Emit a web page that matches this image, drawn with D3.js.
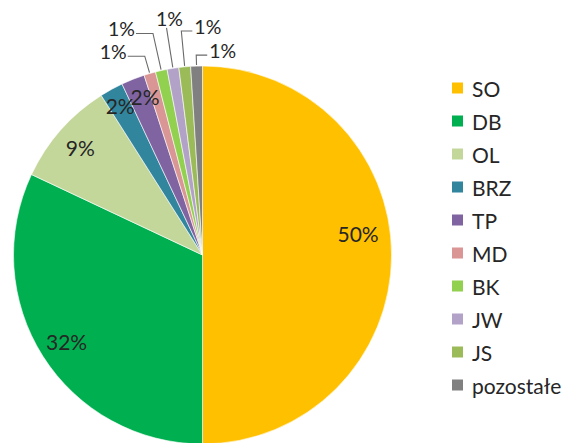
<!DOCTYPE html>
<html><head><meta charset="utf-8">
<script src="https://cdn.jsdelivr.net/npm/d3@7"></script>
<style>body{margin:0;background:#fff}svg{display:block}text{font-family:Lato,"Open Sans",sans-serif}</style>
</head><body>
<svg id="c" width="562" height="443"></svg>
<script>
const categories = ["SO","DB","OL","BRZ","TP","MD","BK","JW","JS","pozostałe"];
const values = [50,32,9,2,2,1,1,1,1,1];
const colors = ["#FFC000","#00B050","#C4D79B","#31859C","#8064A2","#D99694","#92D050","#B3A2C7","#9BBB59","#808080"];

const svg = d3.select("#c");
const cx = 202.5, cy = 255, R = 189;
const FS = 21, FSO = 19.5;
const g = svg.append("g").attr("transform",`translate(${cx},${cy})`);
const data = categories.map((c,i)=>({cat:c,val:values[i],col:colors[i]}));
const pie = d3.pie().sort(null).value(d=>d.val);
const arcs = pie(data);
const arc = d3.arc().innerRadius(0).outerRadius(R);
g.selectAll("path").data(arcs).join("path")
  .attr("d",arc).attr("fill",d=>d.data.col)
  .attr("stroke","#fff").attr("stroke-width",0.6);

const total = d3.sum(values);
const fmt = d => Math.round(d.data.val/total*100)+"%";
const mid = d => (d.startAngle+d.endAngle)/2;
const pt = (a,r)=>[Math.sin(a)*r,-Math.cos(a)*r];

// inside labels (best-fit style: radius and small angular shift)
const inside = arcs.filter(d=>d.data.val>=2);
const inR = [157,161,163,171,169];
const inShift = [-0.135,0,0,0,0.03];
g.selectAll("text.in").data(inside).join("text")
  .attr("class","in")
  .attr("x",(d,i)=>pt(mid(d)+inShift[i],inR[i])[0])
  .attr("y",(d,i)=>pt(mid(d)+inShift[i],inR[i])[1])
  .attr("text-anchor","middle").attr("dominant-baseline","central")
  .attr("font-size",FS).attr("fill","#262626").text(fmt);

// outside labels with leaders
const outside = arcs.filter(d=>d.data.val<2);
const elbowR = [207,227,230,225,200];
const side = ["L","L","T","R","R"];
outside.forEach((d,i)=>{
  const a = mid(d);
  const p0 = pt(a,R+1), p1 = pt(a,elbowR[i]);
  let pts=[p0,p1], tx, ty, anchor;
  if(side[i]==="L"){ const p2=[p1[0]-17,p1[1]]; pts.push(p2); tx=p2[0]-1; ty=p2[1]+3; anchor="end"; }
  else if(side[i]==="R"){ const p2=[p1[0]+11,p1[1]]; pts.push(p2); tx=p2[0]+2; ty=p2[1]+3; anchor="start"; }
  else { tx=p1[0]+3; ty=p1[1]-2; anchor="middle"; }
  g.append("path").attr("d",d3.line()(pts)).attr("fill","none")
    .attr("stroke","#6a6a6a").attr("stroke-width",1.1);
  g.append("text").attr("x",tx).attr("y",ty).attr("text-anchor",anchor)
    .attr("font-size",FSO).attr("fill","#262626").text(fmt(d));
});

// legend
const ly = d3.scalePoint().domain(categories).range([88,385]);
const lg = svg.append("g");
const items = lg.selectAll("g").data(data).join("g")
  .attr("transform",d=>`translate(452,${ly(d.cat)})`);
items.append("rect").attr("x",0).attr("y",-5.5).attr("width",11).attr("height",11).attr("fill",d=>d.col);
items.append("text").attr("x",20).attr("y",0).attr("dominant-baseline","central")
  .attr("font-size",FS).attr("fill","#262626").text(d=>d.cat);
</script>
</body></html>
